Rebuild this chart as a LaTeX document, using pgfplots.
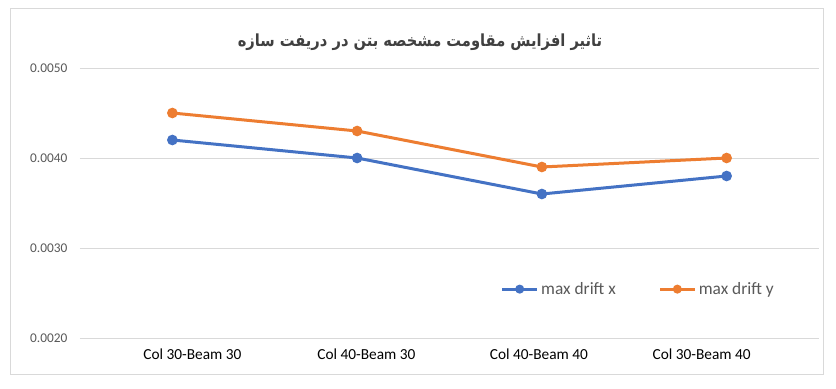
\documentclass[border=0pt]{standalone}
\usepackage{fontspec}
\setmainfont{Carlito}
\usepackage{pgfplots}
\pgfplotsset{compat=1.18}
\TeXXeTstate=1
\newfontfamily\arabicfont[Script=Arabic]{DejaVu Sans}
\definecolor{cblue}{HTML}{4472C4}
\definecolor{corange}{HTML}{ED7D31}
\definecolor{gridc}{HTML}{D9D9D9}
\definecolor{txt}{HTML}{595959}
\begin{document}
\begin{tikzpicture}[x=0.75pt,y=0.75pt]
\fill[white] (-80,-51) rectangle (756,338);
\draw[gridc, line width=0.75pt] (-69,-37) rectangle (743,329);
\begin{axis}[
  at={(0,0)}, anchor=south west,
  scale only axis, width=554.25pt, height=202.5pt,
  xmin=-0.5, xmax=3.5, ymin=0.002, ymax=0.005,
  xtick={0,1,2,3},
  xticklabels={Col 30-Beam 30, Col 40-Beam 30, Col 40-Beam 40, Col 30-Beam 40},
  ytick={0.002,0.003,0.004,0.005},
  scaled y ticks=false,
  yticklabel style={/pgf/number format/fixed, /pgf/number format/fixed zerofill, /pgf/number format/precision=4, /pgf/number format/assume math mode=true,
    font=\fontsize{10}{12}\selectfont, text=txt, xshift=-6pt},
  xticklabel style={font=\fontsize{11.5}{13}\selectfont, text=black, yshift=-4.5pt,
    xshift={{15,7,-2.25,-18.75}[\ticknum]*1pt}},
  ymajorgrids, grid style={gridc, line width=0.75pt},
  axis line style={draw=none},
  tick style={draw=none},
  legend style={at={(0.756,0.181)}, anchor=center, draw=none, fill=none,
    font=\fontsize{13}{15}\selectfont, text=txt, /tikz/every even column/.append style={column sep=30pt}},
  legend columns=2,
  legend image code/.code={\draw[#1, line width=2.25pt] (0pt,0pt) -- (26pt,0pt); \fill[#1] (13pt,0pt) circle (2.2pt);},
]
\addplot[cblue, line width=2.25pt, mark=*, mark size=2.8pt] coordinates {(0,0.0042) (1,0.0040) (2,0.0036) (3,0.0038)};
\addlegendentry{max drift x}
\addplot[corange, line width=2.25pt, mark=*, mark size=2.8pt] coordinates {(0,0.0045) (1,0.0043) (2,0.0039) (3,0.0040)};
\addlegendentry{max drift y}
\end{axis}
\node[xscale=0.88, text={rgb,255:red,64;green,64;blue,64}, font=\fontsize{12.5}{15}\selectfont\arabicfont\bfseries] at (340,296) {\beginR تاثیر افزایش مقاومت مشخصه بتن در دریفت سازه\endR};
\end{tikzpicture}
\end{document}
